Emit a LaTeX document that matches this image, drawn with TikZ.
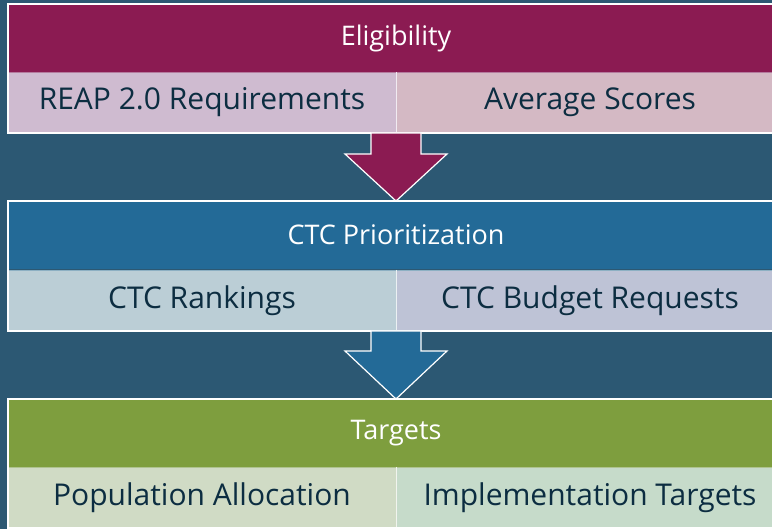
\documentclass[tikz,border=0pt]{standalone}
\usepackage{fontspec}
\setmainfont{Open Sans}
\usetikzlibrary{calc}

\definecolor{bgblue}{RGB}{44,88,115}
\definecolor{plum}{RGB}{139,27,82}
\definecolor{plumA}{RGB}{207,187,208}
\definecolor{plumB}{RGB}{212,185,196}
\definecolor{steel}{RGB}{35,106,151}
\definecolor{steelA}{RGB}{187,206,214}
\definecolor{steelB}{RGB}{190,195,214}
\definecolor{olive}{RGB}{126,158,62}
\definecolor{oliveA}{RGB}{208,219,197}
\definecolor{oliveB}{RGB}{198,219,202}
\definecolor{ink}{RGB}{12,45,65}

\begin{document}
\begin{tikzpicture}[x=1pt,y=1pt,
    head/.style={fill=#1, text=white, minimum width=776pt, minimum height=68pt,
      inner sep=0pt, outer sep=0pt, font=\fontsize{27}{32}\selectfont},
    cell/.style={fill=#1, text=ink, minimum width=388pt, minimum height=61pt,
      inner sep=0pt, outer sep=0pt, font=\fontsize{30}{36}\selectfont},
    frame/.style={draw=white, line width=1.2pt},
    split/.style={draw=#1, line width=0.8pt},
    blockarrow/.style={fill=#1, draw=white, line width=1.2pt, line join=miter}]
    \useasboundingbox (0,0) rectangle (772,529);
    \clip (0,0) rectangle (772,529);
    \fill[bgblue] (0,0) rectangle (772,529);

    \node[head=plum]  (H1) at (396, 491)   {Eligibility};
    \node[cell=plumA] (A1) at (202, 426.5) {REAP 2.0 Requirements};
    \node[cell=plumB] (B1) at (590, 426.5) {Average Scores};

    \node[head=steel]  (H2) at (396, 294)   {CTC Prioritization};
    \node[cell=steelA] (A2) at (202, 228.5) {CTC Rankings};
    \node[cell=steelB] (B2) at (590, 228.5) {CTC Budget Requests};

    \node[head=olive]  (H3) at (396, 96)   {Targets};
    \node[cell=oliveA] (A3) at (202, 31.5) {Population Allocation};
    \node[cell=oliveB] (B3) at (590, 31.5) {Implementation Targets};

    \draw[split=plumA!60!plum] (A1.north west) -- (B1.north east);
    \draw[split=white!70!plumA] (A1.north east) -- (A1.south east);
    \draw[split=steelA!70!steel] (A2.north west) -- (B2.north east);
    \draw[split=white!70!steelA] (A2.north east) -- (A2.south east);
    \draw[split=oliveA!60!olive] (A3.north west) -- (B3.north east);
    \draw[split=white!70!oliveA] (A3.north east) -- (A3.south east);

    \draw[frame] (H1.north west) rectangle (B1.south east);
    \draw[frame] (H2.north west) rectangle (B2.south east);
    \draw[frame] (H3.north west) rectangle (B3.south east);

    \draw[blockarrow=plum] ($(A1.south east)+(-25,0)$) -- ++(0,-21) -- ++(-26,0)
      -- (H2.north) -- ++(51,47) -- ++(-26,0) -- ++(0,21) -- cycle;
    \draw[blockarrow=steel] ($(A2.south east)+(-25,0)$) -- ++(0,-20) -- ++(-26,0)
      -- (H3.north) -- ++(51,48) -- ++(-26,0) -- ++(0,20) -- cycle;
  \end{tikzpicture}
\end{document}
